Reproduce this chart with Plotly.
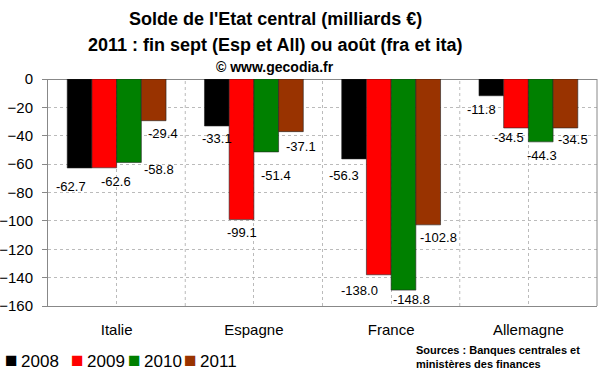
import plotly.graph_objects as go

categories = ["Italie", "Espagne", "France", "Allemagne"]
years = ["2008", "2009", "2010", "2011"]
v2008 = [-62.7, -33.1, -56.3, -11.8]
v2009 = [-62.6, -99.1, -138.0, -34.5]
v2010 = [-58.8, -51.4, -148.8, -44.3]
v2011 = [-29.4, -37.1, -102.8, -34.5]
series = [v2008, v2009, v2010, v2011]
y_ticks = [0, -20, -40, -60, -80, -100, -120, -140, -160]

colors = ["#000000", "#FF0000", "#008000", "#993300"]
# label pixel shifts (style only): per series, per category (dx, dy below bar end)
label_dx = [[-9, 0, -10, -10], [12, 0, -19, -7], [30, 10, 8, 1], [9, 10, 10, 8]]
label_dy = [[19, 13, 17, 14], [14, 13, 16, 10], [7, 24, 9, 14], [13, 15, 13, 12]]
legend_x = [3, 69, 126, 182]

FONT = "Liberation Sans, Arial, sans-serif"
L, R, T, B = 48, 3, 79, 66
W, H = 600, 372
PW, PH = W - L - R, H - T - B

def px(x):
    return (x - L) / PW

def py(y):
    return (H - B - y) / PH

fig = go.Figure()
for yr, vals, c in zip(years, series, colors):
    fig.add_trace(go.Bar(name=yr, x=categories, y=vals, marker_color=c,
                         marker_line=dict(color="#222222", width=0.6)))

bargap = 0.28
w = (1 - bargap) / 4
annotations = []
for i, vals in enumerate(series):
    off = -(1 - bargap) / 2 + w * (i + 0.5)
    for j, v in enumerate(vals):
        annotations.append(dict(x=j + off, y=v, xref="x", yref="y",
                                text=f"{v:.1f}", showarrow=False,
                                xanchor="center", yanchor="middle",
                                xshift=label_dx[i][j], yshift=-label_dy[i][j],
                                font=dict(size=13, color="#000000", family=FONT)))

titles = [("Solde de l'Etat central (milliards €)", 18, 19),
          ("2011 : fin sept (Esp et All) ou août (fra et ita)", 18, 45),
          ("© www.gecodia.fr", 14, 67)]
for t, s, yy in titles:
    annotations.append(dict(x=px(275), y=py(yy), xref="paper", yref="paper",
                            text=f"<b>{t}</b>", showarrow=False,
                            xanchor="center", yanchor="middle",
                            font=dict(size=s, color="#000000", family=FONT)))
annotations.append(dict(x=px(414), y=py(357), xref="paper", yref="paper",
                        text="<b>Sources : Banques centrales et<br>ministères des finances</b>",
                        showarrow=False, xanchor="left", yanchor="middle", align="left",
                        font=dict(size=11, color="#000000", family=FONT)))
# legend drawn as text with coloured squares
for yr, c, lx in zip(years, colors, legend_x):
    annotations.append(dict(x=px(lx), y=py(359), xref="paper", yref="paper",
                            text=f"<span style='color:{c};font-size:21px'>■</span>&#8201;{yr}",
                            showarrow=False, xanchor="left", yanchor="middle",
                            font=dict(size=17, color="#000000", family=FONT)))

fig.update_layout(
    width=W, height=H,
    margin=dict(l=L, r=R, t=T, b=B, autoexpand=False),
    paper_bgcolor="white", plot_bgcolor="white",
    barmode="group", bargap=bargap, bargroupgap=0,
    font=dict(family=FONT, color="#000000"),
    showlegend=False,
    annotations=annotations,
    xaxis=dict(showline=True, linecolor="#888888", linewidth=1, mirror=False,
               showgrid=True, gridcolor="#BBBBBB", griddash="dot", gridwidth=1,
               tickfont=dict(size=15, family=FONT), ticks="outside", ticklen=10,
               tickcolor="rgba(0,0,0,0)", automargin=False),
    yaxis=dict(range=[-160, 0], tickvals=y_ticks, showline=True, linecolor="#888888",
               linewidth=1, mirror=False, showgrid=True, gridcolor="#BBBBBB",
               griddash="dot", gridwidth=1, zeroline=True, zerolinecolor="#888888",
               zerolinewidth=1, ticks="outside", ticklen=5, tickcolor="#888888",
               tickfont=dict(size=15, family=FONT), automargin=False,
               ticklabelstandoff=6),
)
fig.add_shape(type="line", xref="paper", yref="paper", x0=1, x1=1, y0=0, y1=1,
              line=dict(color="#888888", width=1))
for k in range(1, len(categories)):
    fig.add_shape(type="line", xref="x", yref="paper", x0=k - 0.5, x1=k - 0.5, y0=0, y1=1,
                  line=dict(color="#BBBBBB", width=1, dash="dot"), layer="below")

fig.write_html("out.html", config={"displayModeBar": False},
               post_script="document.body.style.margin='0';")
